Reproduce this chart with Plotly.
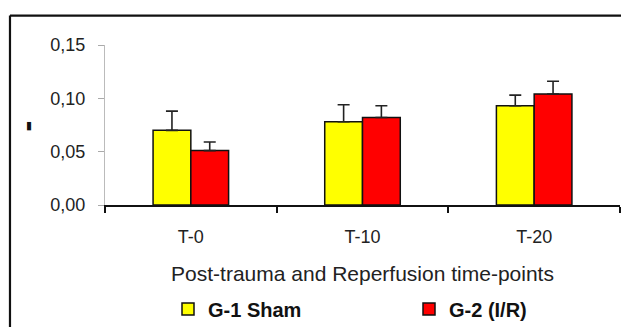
import plotly.graph_objects as go

categories = ["T-0", "T-10", "T-20"]
sham_values = [0.070, 0.078, 0.093]
sham_errors = [0.018, 0.016, 0.010]
ir_values = [0.051, 0.082, 0.104]
ir_errors = [0.008, 0.011, 0.012]
series_names = ["G-1 Sham", "G-2 (I/R)"]
y_ticks = [0.0, 0.05, 0.10, 0.15]

FONT = "Arial, 'Liberation Sans', sans-serif"

fig = go.Figure()
for name, vals, errs, color, leg in [
    (series_names[0], sham_values, sham_errors, "#FFFF00", "legend"),
    (series_names[1], ir_values, ir_errors, "#FF0000", "legend2"),
]:
    fig.add_trace(go.Bar(
        x=categories, y=vals, name=name, legend=leg,
        marker=dict(color=color, line=dict(color="#111111", width=1.5)),
        error_y=dict(type="data", array=errs, arrayminus=[0] * len(errs),
                     symmetric=False, color="#222222", thickness=1.6, width=6),
    ))

legend_common = dict(orientation="h", y=-0.65, yanchor="middle", xanchor="left",
                     font=dict(family=FONT, size=20, color="#111111", weight="bold"),
                     bgcolor="rgba(0,0,0,0)", itemclick=False)

fig.update_layout(
    width=621, height=340,
    margin=dict(l=97, r=9, t=37, b=143),
    paper_bgcolor="white", plot_bgcolor="white",
    separators=", ",
    barmode="group", bargap=0.56, bargroupgap=0,
    font=dict(family=FONT, color="#222222"),
    showlegend=True,
    legend=dict(x=(160 - 97) / 515, **legend_common),
    legend2=dict(x=(401 - 97) / 515, **legend_common),
    xaxis=dict(
        showline=True, linecolor="#111111", linewidth=1.5,
        ticks="outside", ticklen=6, tickwidth=1.5, tickcolor="#111111",
        tickson="boundaries", tickfont=dict(size=18, color="#222222"),
        ticklabelstandoff=15,
        title=dict(text="Post-trauma and Reperfusion time-points",
                   font=dict(size=21, color="#222222"), standoff=20),
        showgrid=False, zeroline=False,
    ),
    yaxis=dict(
        range=[0, 0.15], tickvals=y_ticks, tickformat=".2f",
        showline=True, linecolor="#BBBBBB", linewidth=1,
        ticks="outside", ticklen=6, tickwidth=1, tickcolor="#AAAAAA",
        tickfont=dict(size=18, color="#222222"),
        ticklabelstandoff=9,
        showgrid=False, zeroline=False,
    ),
    annotations=[dict(text="▮", xref="paper", yref="paper", x=-0.157, y=0.497,
                      showarrow=False, font=dict(size=11, color="#111111"))],
    shapes=[
        dict(type="line", xref="paper", yref="paper", x0=-0.1845, x1=1.03, y0=1.184, y1=1.184,
             line=dict(color="#111111", width=2.2)),
        dict(type="line", xref="paper", yref="paper", x0=-0.1845, x1=-0.1845, y0=1.184, y1=-0.95,
             line=dict(color="#111111", width=2.2)),
        dict(type="line", xref="paper", yref="paper", x0=1.0146, x1=1.0146, y0=1.18, y1=-0.95,
             line=dict(color="#E6E6E6", width=1)),
    ],
)

fig.write_html("out.html")
